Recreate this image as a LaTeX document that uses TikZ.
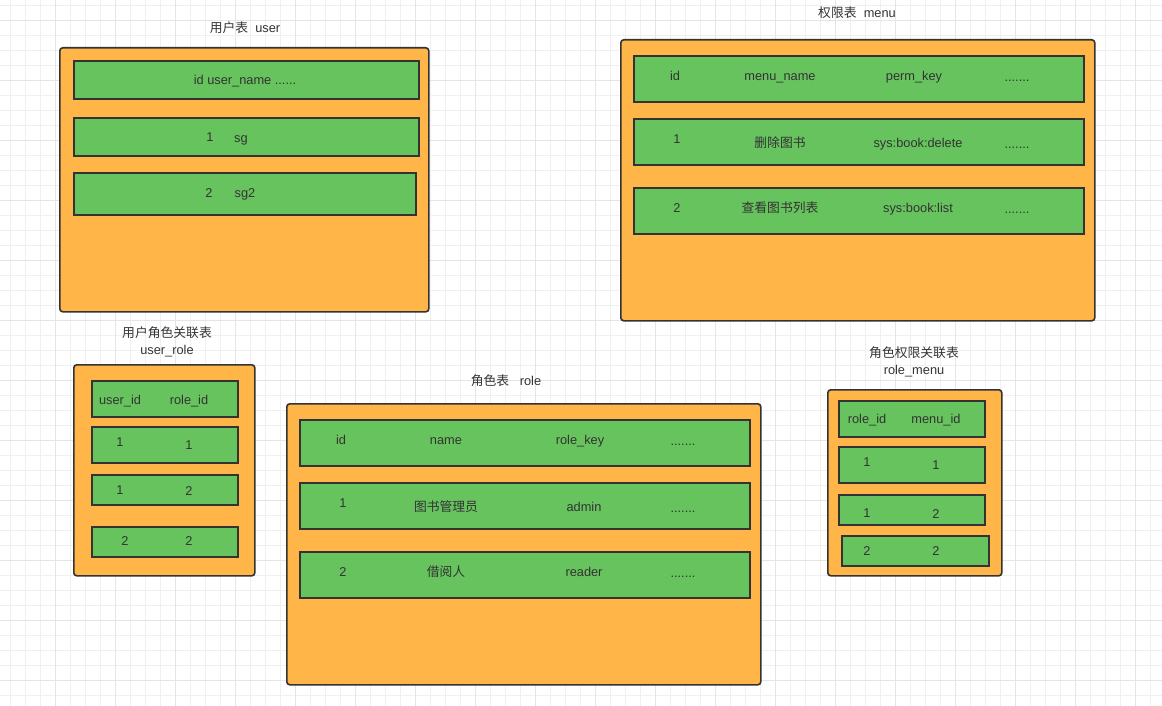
\documentclass[tikz,border=0pt]{standalone}
\usepackage{fontspec}
\setmainfont{Liberation Sans}
\newfontfamily\cjk{Noto Sans CJK SC}
\definecolor{gridminor}{HTML}{F0F0F0}
\definecolor{gridmajor}{HTML}{E5E5E5}
\definecolor{orangefill}{HTML}{FFB547}
\definecolor{greenfill}{HTML}{66C35E}
\definecolor{edge}{HTML}{333333}
\definecolor{txt}{HTML}{333333}
\tikzset{
  outerbox/.style={draw=edge, fill=orangefill, line width=1.6pt, rounded corners=3pt, anchor=north west, inner sep=0pt},
  rowbox/.style={draw=edge, fill=greenfill, line width=1.6pt, anchor=north west, inner sep=0pt},
  lbl/.style={text=txt, inner sep=0pt, yshift=-1.5pt, text height=9.2pt, text depth=2.6pt, font=\fontsize{12.8}{17}\selectfont},
  ttl/.style={text=txt, inner sep=0pt, yshift=-1pt, align=center, font=\fontsize{12.8}{17}\selectfont},
}
\newcommand{\ob}[5]{\node[outerbox, minimum width={#4-#2}, minimum height={#5-#3}] (#1) at (#2,#3) {};}
\newcommand{\rb}[5]{\node[rowbox, minimum width={#4-#2}, minimum height={#5-#3}] (#1) at (#2,#3) {};}
\begin{document}
\begin{tikzpicture}[x=1pt,y=-1pt]
\useasboundingbox (0,0) rectangle (1162,706);
\fill[white] (0,0) rectangle (1162,706);
% grid
\foreach \i in {0,...,77} \draw[gridminor, line width=0.8pt] ({10.7+15*\i},0) -- ({10.7+15*\i},706);
\foreach \j in {0,...,47} \draw[gridminor, line width=0.8pt] (0,{5+15*\j}) -- (1162,{5+15*\j});
\foreach \i in {0,...,19} \draw[gridmajor, line width=0.8pt] ({55.7+60*\i},0) -- ({55.7+60*\i},706);
\foreach \j in {0,...,11} \draw[gridmajor, line width=0.8pt] (0,{20.7+60*\j}) -- (1162,{20.7+60*\j});

% ===== user =====
\node[lbl] (tuser) at (245,28) {{\cjk 用户表}\ \ user};
\ob{user}{59}{47}{428}{311}
\rb{u0}{73}{60}{418}{98}
\rb{u1}{73}{117}{418}{155}
\rb{u2}{73}{172}{415}{214}
\node[lbl] (u0t) at (245,80) {id user\_name ......};
\node[lbl] (u1a) at (210,137) {1};
\node[lbl] (u1b) at (241,138) {sg};
\node[lbl] (u2a) at (209,193) {2};
\node[lbl] (u2b) at (245,193) {sg2};

% ===== menu =====
\node[lbl] (tmenu) at (857,13) {{\cjk 权限表}\ \ menu};
\ob{menu}{620}{39}{1094}{320}
\rb{m0}{633}{55}{1083}{101}
\rb{m1}{633}{118}{1083}{164}
\rb{m2}{633}{187}{1083}{233}
\node[lbl] (m0a) at (675,76) {id};
\node[lbl] (m0b) at (780,76) {menu\_name};
\node[lbl] (m0c) at (914,76) {perm\_key};
\node[lbl] (m0d) at (1017,77) {.......};
\node[lbl] (m1a) at (677,139) {1};
\node[lbl] (m1b) at (780,143) {\cjk 删除图书};
\node[lbl] (m1c) at (918,143) {sys:book:delete};
\node[lbl] (m1d) at (1017,144) {.......};
\node[lbl] (m2a) at (677,208) {2};
\node[lbl] (m2b) at (780,208) {\cjk 查看图书列表};
\node[lbl] (m2c) at (918,208) {sys:book:list};
\node[lbl] (m2d) at (1017,209) {.......};

% ===== user_role =====
\node[ttl] (tur) at (167,340.5) {{\cjk 用户角色关联表}\\user\_role};
\ob{ur}{73}{364}{254}{575}
\rb{ur0}{91}{380}{237}{416}
\rb{ur1}{91}{426}{237}{462}
\rb{ur2}{91}{474}{237}{504}
\rb{ur3}{91}{526}{237}{556}
\node[lbl] (ur0a) at (120,400) {user\_id};
\node[lbl] (ur0b) at (189,400) {role\_id};
\node[lbl] (ur1a) at (120,442) {1};
\node[lbl] (ur1b) at (189,445) {1};
\node[lbl] (ur2a) at (120,490) {1};
\node[lbl] (ur2b) at (189,491) {2};
\node[lbl] (ur3a) at (125,541) {2};
\node[lbl] (ur3b) at (189,541) {2};

% ===== role =====
\node[lbl] (trole) at (506,381) {{\cjk 角色表}\ \ \ role};
\ob{role}{286}{403}{760}{684}
\rb{r0}{299}{419}{749}{465}
\rb{r1}{299}{482}{749}{528}
\rb{r2}{299}{551}{749}{597}
\node[lbl] (r0a) at (341,440) {id};
\node[lbl] (r0b) at (446,440) {name};
\node[lbl] (r0c) at (580,440) {role\_key};
\node[lbl] (r0d) at (683,441) {.......};
\node[lbl] (r1a) at (343,503) {1};
\node[lbl] (r1b) at (446,507) {\cjk 图书管理员};
\node[lbl] (r1c) at (584,507) {admin};
\node[lbl] (r1d) at (683,508) {.......};
\node[lbl] (r2a) at (343,572) {2};
\node[lbl] (r2b) at (446,572) {\cjk 借阅人};
\node[lbl] (r2c) at (584,572) {reader};
\node[lbl] (r2d) at (683,573) {.......};

% ===== role_menu =====
\node[ttl] (trm) at (914,360.5) {{\cjk 角色权限关联表}\\role\_menu};
\ob{rm}{827}{389}{1001}{575}
\rb{rm0}{838}{400}{984}{436}
\rb{rm1}{838}{446}{984}{482}
\rb{rm2}{838}{494}{984}{524}
\rb{rm3}{841}{535}{988}{565}
\node[lbl] (rm0a) at (867,419) {role\_id};
\node[lbl] (rm0b) at (936,419) {menu\_id};
\node[lbl] (rm1a) at (867,462) {1};
\node[lbl] (rm1b) at (936,465) {1};
\node[lbl] (rm2a) at (867,513) {1};
\node[lbl] (rm2b) at (936,514) {2};
\node[lbl] (rm3a) at (867,551) {2};
\node[lbl] (rm3b) at (936,551) {2};
\end{tikzpicture}
\end{document}
